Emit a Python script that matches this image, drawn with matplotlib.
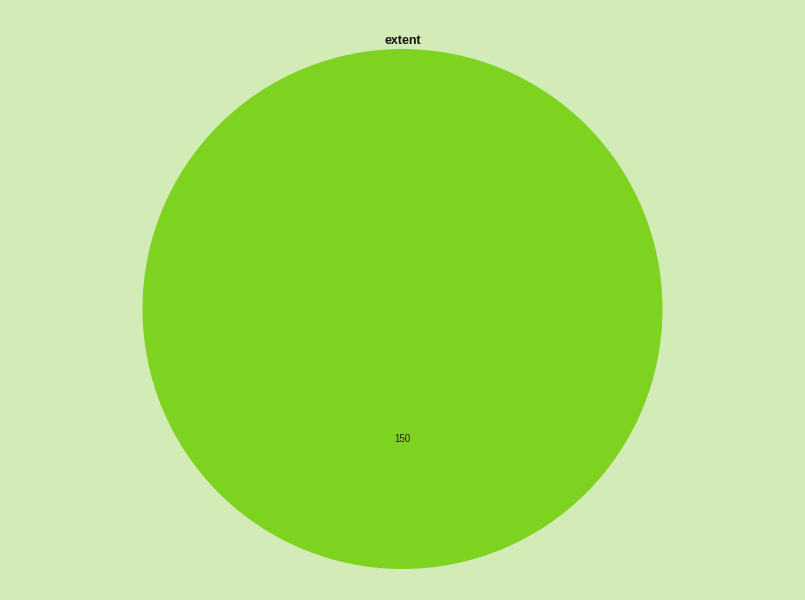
import matplotlib
matplotlib.use("Agg")
import matplotlib.pyplot as plt

# single-slice pie
labels = ["extent"]
values = [150]
colors = ["#7ed321"]

plt.rcParams['font.family'] = ['Liberation Sans', 'DejaVu Sans']

fig = plt.figure(figsize=(8.05, 6), dpi=100, facecolor="#d3ecb7")
ax = fig.add_axes([(402.5 - 260) / 805, (291 - 260) / 600, 520 / 805, 520 / 600])
ax.set_facecolor("#d3ecb7")

wedges, texts, autotexts = ax.pie(
    values, colors=colors, startangle=90, counterclock=False,
    autopct=lambda p: f"{p * sum(values) / 100:.0f}",
    pctdistance=0.5, wedgeprops=dict(linewidth=0),
    textprops=dict(fontsize=7, color="#222222"),
)
ax.set_xlim(-1, 1)
ax.set_ylim(-1, 1)
ax.set_aspect("equal")
ax.axis("off")

fig.text(402.5 / 805, 1 - 41 / 600, labels[0], ha="center", va="center",
         fontsize=9, fontweight="bold", color="#111111")

fig.savefig("out.png", dpi=100, facecolor=fig.get_facecolor())
